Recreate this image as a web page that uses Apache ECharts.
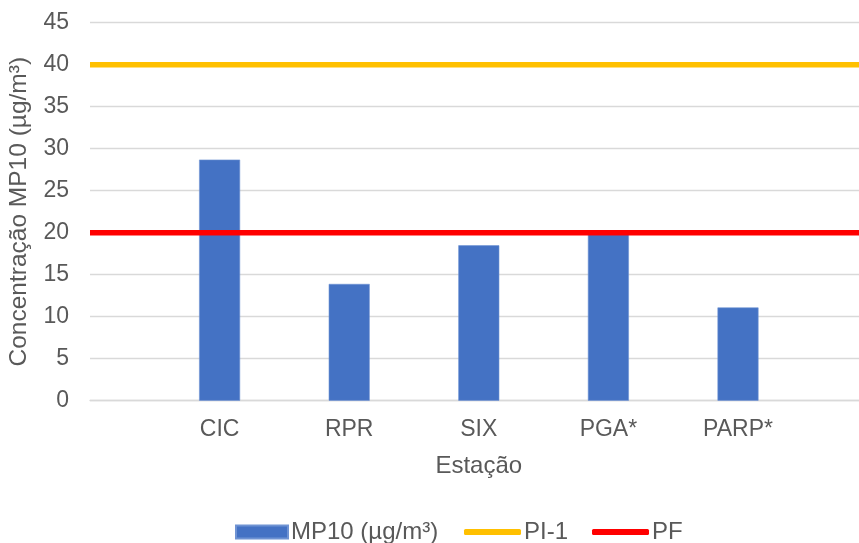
<!DOCTYPE html>
<html>
<head>
<meta charset="utf-8">
<script src="https://cdn.jsdelivr.net/npm/echarts@6/dist/echarts.min.js"></script>
<style>
  html, body { margin: 0; padding: 0; background: #ffffff; }
  #chart { width: 859px; height: 543px; }
</style>
</head>
<body>
<div id="chart"></div>
<script>
// Stations (blank slots pad the axis at both ends)
const stations = ['', 'CIC', 'RPR', 'SIX', 'PGA*', 'PARP*', ''];
// Measured MP10 concentration per station (µg/m³)
const mp10 = [null, 28.7, 13.9, 18.5, 19.8, 11.1, null];
// Reference limits
const pi1Limit = 40;
const pfLimit = 20;
const yTicks = { min: 0, max: 45, step: 5 };

const seriesNames = { bar: 'MP10 (µg/m³)', pi1: 'PI-1', pf: 'PF' };

const font = 'Liberation Sans, Arial, sans-serif';
const textColor = '#595959';

const chart = echarts.init(document.getElementById('chart'), null, { renderer: 'canvas' });

chart.setOption({
  animation: false,
  backgroundColor: '#ffffff',
  grid: {
    left: 90, top: 22.7, width: 777.6, bottom: 142.3,
    containLabel: false,
    outerBoundsMode: 'none'
  },
  xAxis: {
    type: 'category',
    data: stations,
    boundaryGap: false,
    name: 'Estação',
    nameLocation: 'middle',
    nameGap: 54,
    nameTextStyle: { fontFamily: font, fontSize: 24, color: textColor },
    axisLine: { show: true, lineStyle: { color: '#D9D9D9', width: 1.3 } },
    axisTick: { show: false },
    axisLabel: { fontFamily: font, fontSize: 23, color: textColor, margin: 17, interval: 0 },
    splitLine: { show: false }
  },
  yAxis: {
    type: 'value',
    min: yTicks.min,
    max: yTicks.max,
    interval: yTicks.step,
    name: 'Concentração MP10 (µg/m³)',
    nameLocation: 'middle',
    nameGap: 58,
    nameRotate: 90,
    nameTextStyle: { fontFamily: font, fontSize: 24.5, color: textColor },
    axisLine: { show: false },
    axisTick: { show: false },
    axisLabel: { fontFamily: font, fontSize: 23, color: textColor, margin: 21 },
    splitLine: { lineStyle: { color: '#D9D9D9', width: 1.3 } }
  },
  legend: [
    {
      data: [{ name: seriesNames.bar, icon: 'rect' }],
      left: 235, top: 520,
      itemWidth: 52, itemHeight: 13, itemGap: 26,
      textStyle: { fontFamily: font, fontSize: 24, color: textColor, padding: [0, 0, 0, -2] },
      padding: 0
    },
    {
      data: [
        { name: seriesNames.pi1, icon: 'roundRect' },
        { name: seriesNames.pf, icon: 'roundRect' }
      ],
      left: 464, top: 520,
      itemWidth: 57, itemHeight: 6, itemGap: 24,
      textStyle: { fontFamily: font, fontSize: 24, color: textColor, padding: [0, 0, 0, -2] },
      padding: 0
    }
  ],
  series: [
    {
      name: seriesNames.bar,
      type: 'bar',
      data: mp10,
      barWidth: 41,
      itemStyle: { color: '#4472C4', borderColor: '#6F93D3', borderWidth: 0.6 },
      z: 2
    },
    {
      name: seriesNames.pi1,
      type: 'line',
      data: stations.map(() => pi1Limit),
      symbol: 'none',
      lineStyle: { color: '#FFC000', width: 5.5 },
      itemStyle: { color: '#FFC000' },
      z: 3
    },
    {
      name: seriesNames.pf,
      type: 'line',
      data: stations.map(() => pfLimit),
      symbol: 'none',
      lineStyle: { color: '#FF0000', width: 5.5 },
      itemStyle: { color: '#FF0000' },
      z: 4
    }
  ]
});
</script>
</body>
</html>
